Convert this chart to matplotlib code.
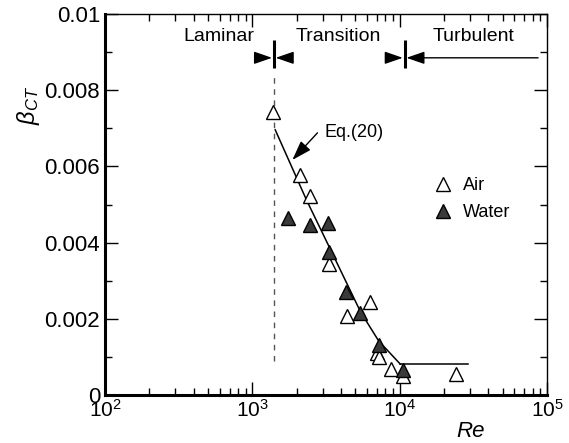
import matplotlib
matplotlib.use("Agg")
import matplotlib.pyplot as plt
from matplotlib.ticker import LogLocator, LogFormatterMathtext, MultipleLocator, FixedFormatter, FixedLocator

plt.rcParams['font.family'] = ['Liberation Sans', 'DejaVu Sans']
plt.rcParams['mathtext.fontset'] = 'custom'
plt.rcParams['mathtext.rm'] = 'Liberation Sans'
plt.rcParams['mathtext.it'] = 'Liberation Sans:italic'
plt.rcParams['mathtext.bf'] = 'Liberation Sans:bold'

# ---- data ----
air_re = [1390, 2120, 2445, 3290, 4360, 6300, 6980, 7190, 8690, 10480, 24000]
air_beta = [0.00743, 0.00577, 0.00522, 0.00344, 0.00207, 0.00243, 0.00110, 0.00100, 0.00068, 0.00050, 0.00055]

water_re = [1758, 2445, 3238, 3340, 4295, 5380, 7190, 10480]
water_beta = [0.00465, 0.00446, 0.00451, 0.00375, 0.00270, 0.00214, 0.00131, 0.00066]

eq_re = [1430, 2330, 3400, 5430, 7200, 10100]
eq_beta = [0.00696, 0.00512, 0.00381, 0.00218, 0.00142, 0.00081]
flat_re = [10100, 29000]
flat_beta = [0.00081, 0.00081]

re_lam = 1400
re_turb = 10800
regime_labels = ['Laminar', 'Transition', 'Turbulent']
regime_x = [590, 3850, 31800]

ytick_vals = [0, 0.002, 0.004, 0.006, 0.008, 0.01]
ytick_labels = ['0', '0.002', '0.004', '0.006', '0.008', '0.01']

fig = plt.figure(figsize=(5.69, 4.43), dpi=100)
ax = fig.add_axes([105/569, 48/443, 442/569, 381/443])

ax.set_xscale('log')
ax.set_xlim(1e2, 1e5)
ax.set_ylim(0, 0.01)

# dashed laminar boundary
ax.plot([re_lam, re_lam], [0.00090, 0.00840], ls=(0, (4, 4)), color='#555555', lw=1.0)

# Eq.(20) curve
ax.plot(eq_re, eq_beta, color='black', lw=1.1)
ax.plot(flat_re, flat_beta, color='black', lw=1.1)

# data
ax.plot(air_re, air_beta, ls='none', marker='^', ms=10.5, mfc='white', mec='black', mew=1.0, label='Air', zorder=3)
ax.plot(water_re, water_beta, ls='none', marker='^', ms=10.5, mfc='#3a3a3a', mec='black', mew=1.0, label='Water', zorder=4)

# regime boundary marks
ybar = 0.00885
for rb in [re_lam, re_turb]:
    ax.plot([rb, rb], [0.00858, 0.00932], color='black', lw=2.2, solid_capstyle='butt')
    ax.annotate('', xy=(rb, ybar), xytext=(-12.5, 0), textcoords='offset points',
                arrowprops=dict(arrowstyle='-|>,head_length=1.1,head_width=0.38', mutation_scale=10,
                                color='black', lw=1, shrinkA=0, shrinkB=1.3))
ax.annotate('', xy=(re_lam, ybar), xytext=(12.5, 0), textcoords='offset points',
            arrowprops=dict(arrowstyle='-|>,head_length=1.1,head_width=0.38', mutation_scale=10,
                            color='black', lw=1, shrinkA=0, shrinkB=1.3))
ax.annotate('', xy=(re_turb, ybar), xytext=(87000, ybar), textcoords='data',
            arrowprops=dict(arrowstyle='-|>,head_length=1.1,head_width=0.38', mutation_scale=10,
                            color='black', lw=1, shrinkA=0, shrinkB=1.3))

for lab, xr in zip(regime_labels, regime_x):
    ax.text(xr, 0.00940, lab, ha='center', va='center', fontsize=14)

# Eq.(20) label and arrow
ax.text(3090, 0.00688, 'Eq.(20)', ha='left', va='center', fontsize=13)
ax.annotate('', xy=(1870, 0.00617), xytext=(2767, 0.00688),
            arrowprops=dict(arrowstyle='-|>,head_length=1.2,head_width=0.4', mutation_scale=10,
                            color='black', lw=1, shrinkA=0, shrinkB=0))

# axes style
for side in ['left', 'bottom']:
    ax.spines[side].set_linewidth(2.2)
for side in ['top', 'right']:
    ax.spines[side].set_linewidth(1.0)

ax.xaxis.set_major_locator(LogLocator(base=10, numticks=10))
ax.xaxis.set_minor_locator(LogLocator(base=10, subs=range(2, 10), numticks=20))
ax.xaxis.set_major_formatter(LogFormatterMathtext())
ax.yaxis.set_major_locator(FixedLocator(ytick_vals))
ax.yaxis.set_major_formatter(FixedFormatter(ytick_labels))
ax.yaxis.set_minor_locator(MultipleLocator(0.001))

ax.tick_params(which='both', direction='in', top=True, right=True, width=1.0)
ax.tick_params(which='major', length=9.5)
ax.tick_params(which='minor', length=5)
ax.tick_params(axis='y', which='major', labelsize=16, pad=3.5)
ax.tick_params(axis='x', which='major', labelsize=15, pad=3)

ax.set_xlabel('Re', style='italic', fontsize=16)
ax.xaxis.set_label_coords(0.826, -0.068)
ax.set_ylabel(r'$\beta_{CT}$', fontsize=17)
ax.yaxis.set_label_coords(-0.143, 0.761)

ax.legend(loc='upper left', bbox_to_anchor=(0.744, 0.572), frameon=False, fontsize=13,
          handlelength=1.0, handletextpad=0.6, labelspacing=0.55, borderpad=0, borderaxespad=0,
          numpoints=1)

fig.savefig('out.png', dpi=100)
